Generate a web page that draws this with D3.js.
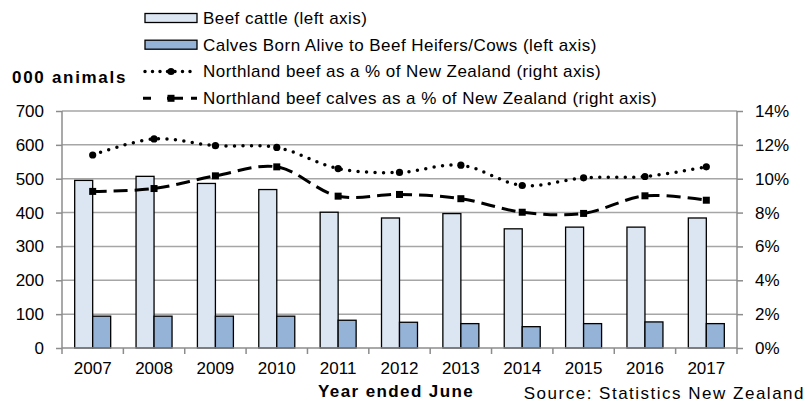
<!DOCTYPE html>
<html><head><meta charset="utf-8">
<script src="https://cdn.jsdelivr.net/npm/d3@7"></script>
<style>
body{margin:0;background:#fff;}
text{font-family:"Liberation Sans",Arial,sans-serif;fill:#000;}
</style></head>
<body><svg id="c" width="809" height="410"></svg>
<script>
const years = ["2007","2008","2009","2010","2011","2012","2013","2014","2015","2016","2017"];
const beefCattle = [495,507,486,468,401,384,397,352,357,357,384];
const calvesBorn = [94,94,94,94,82,76,72,63,72,77,72];
const beefPct = [11.4,12.35,11.95,11.85,10.6,10.37,10.8,9.6,10.05,10.13,10.7];
const calvesPct = [9.25,9.42,10.17,10.7,8.97,9.07,8.82,8.02,7.95,8.99,8.73];
const leftTicks = [0,100,200,300,400,500,600,700];
const rightTicks = [0,2,4,6,8,10,12,14];
const legendLabels = ["Beef cattle (left axis)","Calves Born Alive to Beef Heifers/Cows (left axis)","Northland beef as a % of New Zealand (right axis)","Northland beef calves as a % of New Zealand (right axis)"];

const svg = d3.select("#c");
const L=62, R=737, T=111, B=348;
const x = d3.scaleBand().domain(years).range([L,R]);
const xi = d3.scaleBand().domain(["beef","calves"]).range([0,x.bandwidth()]).paddingOuter(0.705);
const y = d3.scaleLinear().domain([0,700]).range([B,T]);
const y2 = d3.scaleLinear().domain([0,14]).range([B,T]);
const gridCol="#a6a6a6", axisCol="#8c8c8c";

// gridlines
svg.append("g").selectAll("line").data(leftTicks.slice(1)).join("line")
  .attr("x1",L).attr("x2",R).attr("y1",d=>y(d)).attr("y2",d=>y(d))
  .attr("stroke",gridCol).attr("stroke-width",1.5);

// axes
const gl = svg.append("g").attr("transform",`translate(${L},0)`)
  .call(d3.axisLeft(y).tickValues(leftTicks).tickSize(6).tickPadding(12));
const gr = svg.append("g").attr("transform",`translate(${R},0)`)
  .call(d3.axisRight(y2).tickValues(rightTicks).tickFormat(d=>d+"%").tickSize(6).tickPadding(12));
[gl,gr].forEach(g=>{
  g.selectAll("path,line").attr("stroke",axisCol).attr("stroke-width",1.5);
  g.select(".domain").attr("d", `M0,${T}V${B}`);
  g.selectAll("text").attr("font-size",17).attr("font-family","Liberation Sans, Arial, sans-serif").attr("fill","#000");
});

// bars
const grp = svg.append("g").selectAll("g").data(years).join("g")
  .attr("transform",d=>`translate(${x(d)},0)`);
grp.append("rect").attr("x",xi("beef")).attr("width",xi.bandwidth())
  .attr("y",(d,i)=>y(beefCattle[i])).attr("height",(d,i)=>B-y(beefCattle[i]))
  .attr("fill","#dce6f2").attr("stroke","#000").attr("stroke-width",1.3);
grp.append("rect").attr("x",xi("calves")).attr("width",xi.bandwidth())
  .attr("y",(d,i)=>y(calvesBorn[i])).attr("height",(d,i)=>B-y(calvesBorn[i]))
  .attr("fill","#95b3d7").attr("stroke","#000").attr("stroke-width",1.3);

// x axis
const gx = svg.append("g").attr("transform",`translate(0,${B})`)
  .call(d3.axisBottom(x).tickSize(0).tickPadding(14));
gx.select(".domain").attr("d",`M${L},0H${R}`).attr("stroke",axisCol).attr("stroke-width",1.5);
gx.selectAll("text").attr("font-size",17).attr("font-family","Liberation Sans, Arial, sans-serif").attr("fill","#000");
svg.append("g").selectAll("line").data(years.concat(["end"])).join("line")
  .attr("x1",(d,i)=>L+i*x.step()).attr("x2",(d,i)=>L+i*x.step())
  .attr("y1",B).attr("y2",B+6).attr("stroke",axisCol).attr("stroke-width",1.5);

// lines
const cx = d=>x(d)+x.bandwidth()/2;
const line1 = d3.line().x((d,i)=>cx(years[i])).y(d=>y2(d)).curve(d3.curveCatmullRom.alpha(0.5));
svg.append("path").attr("d",line1(beefPct)).attr("fill","none").attr("stroke","#000")
  .attr("stroke-width",3.5).attr("stroke-linecap","round").attr("stroke-dasharray","0,8.5");
svg.append("g").selectAll("circle").data(beefPct).join("circle")
  .attr("cx",(d,i)=>cx(years[i])).attr("cy",d=>y2(d)).attr("r",3.6).attr("fill","#000");
svg.append("path").attr("d",line1(calvesPct)).attr("fill","none").attr("stroke","#000")
  .attr("stroke-width",3).attr("stroke-dasharray","14,7");
svg.append("g").selectAll("rect").data(calvesPct).join("rect")
  .attr("x",(d,i)=>cx(years[i])-3.5).attr("y",d=>y2(d)-3.5).attr("width",7).attr("height",7).attr("fill","#000");

// legend
const lg = svg.append("g");
const rowsY=[18,44.7,71.5,98.3];
lg.append("rect").attr("x",145).attr("y",rowsY[0]-4.5).attr("width",52).attr("height",9).attr("fill","#dce6f2").attr("stroke","#000").attr("stroke-width",1.3);
lg.append("rect").attr("x",145).attr("y",rowsY[1]-4.5).attr("width",52).attr("height",9).attr("fill","#95b3d7").attr("stroke","#000").attr("stroke-width",1.3);
lg.append("line").attr("x1",145).attr("x2",197).attr("y1",rowsY[2]).attr("y2",rowsY[2]).attr("stroke","#000").attr("stroke-width",3.5).attr("stroke-linecap","round").attr("stroke-dasharray","0,7.5");
lg.append("circle").attr("cx",171).attr("cy",rowsY[2]).attr("r",3.6).attr("fill","#000");
lg.append("line").attr("x1",143).attr("x2",197).attr("y1",rowsY[3]).attr("y2",rowsY[3]).attr("stroke","#000").attr("stroke-width",3).attr("stroke-dasharray","8,16,8,0,8");
lg.append("rect").attr("x",167.5).attr("y",rowsY[3]-3.5).attr("width",7).attr("height",7).attr("fill","#000");
lg.selectAll("text").data(legendLabels).join("text")
  .attr("x",203).attr("y",(d,i)=>rowsY[i]).attr("dy","0.35em")
  .attr("font-size",17).attr("letter-spacing","0.45px").text(d=>d);

svg.append("text").attr("x",12).attr("y",77).attr("dy","0.35em").attr("font-size",17).attr("font-weight","bold").attr("letter-spacing","1.7px").text("000 animals");
svg.append("text").attr("x",318).attr("y",391).attr("dy","0.35em").attr("font-size",17).attr("font-weight","bold").attr("letter-spacing","1.4px").text("Year ended June");
svg.append("text").attr("x",805).attr("y",393).attr("dy","0.35em").attr("text-anchor","end").attr("font-size",17).attr("letter-spacing","1.5px").text("Source: Statistics New Zealand");
</script></body></html>
